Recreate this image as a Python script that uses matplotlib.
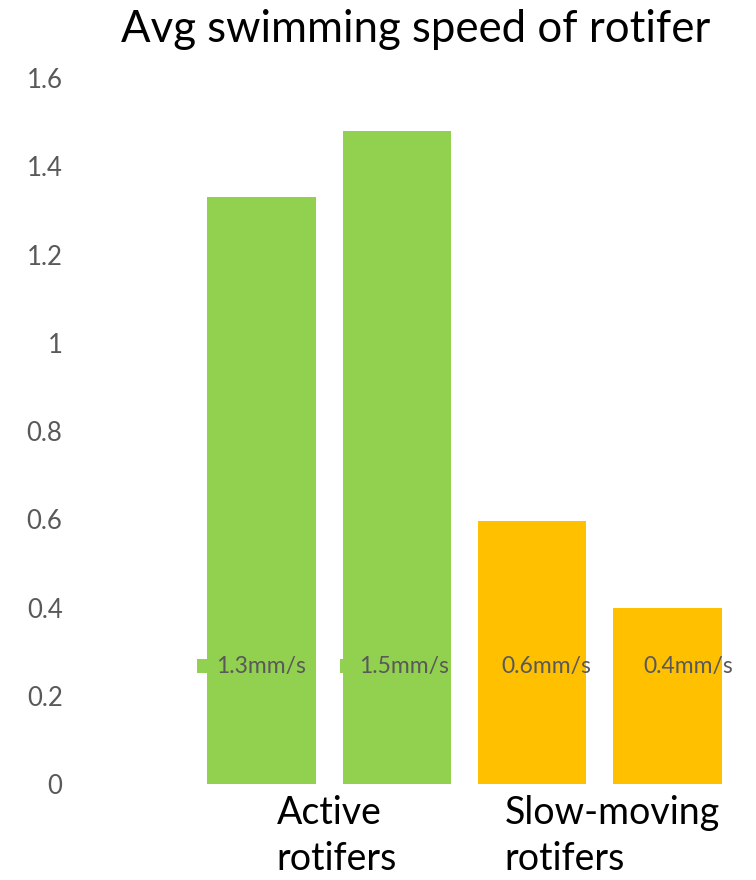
import matplotlib
matplotlib.use("Agg")
import matplotlib.pyplot as plt
from matplotlib.patches import Rectangle
from matplotlib.transforms import blended_transform_factory

plt.rcParams['font.family'] = ['Lato', 'DejaVu Sans']

# bar heights (mm/s), one bar per sample, two samples per group
speeds = [1.33, 1.48, 0.595, 0.40]
bar_colors = ['#92D050', '#92D050', '#FFC000', '#FFC000']
groups = ['Active\nrotifers', 'Slow-moving\nrotifers']
yticks = [0, 0.2, 0.4, 0.6, 0.8, 1, 1.2, 1.4, 1.6]
ytick_labels = ['0', '0.2', '0.4', '0.6', '0.8', '1', '1.2', '1.4', '1.6']

fig = plt.figure(figsize=(7.56, 8.80), dpi=100)
ax = fig.add_axes([75 / 756, 96 / 880, 670 / 756, 706 / 880])

xs = list(range(len(speeds)))
ax.bar(xs, speeds, width=0.8, color=bar_colors, zorder=2)

# data labels sit at a fixed height with a small legend key to their left
label_y = 0.267
key_w = 14 / 135.33
key_h = 14 / 441.25
for i, v in enumerate(speeds):
  cx = i + 0.052 * i
  ax.text(cx, label_y, f"{v:.1f}mm/s", ha='center', va='center',
          fontsize=16.5, color='#595959', zorder=4)
  left = cx - 0.325 - 20 / 135.33
  ax.add_patch(Rectangle((left, label_y - key_h / 2), key_w, key_h,
                         facecolor=bar_colors[i], edgecolor='none', zorder=1))

ax.set_xlim(-1.378, 3.573)
ax.set_ylim(0, 1.6)
ax.set_yticks(yticks)
ax.set_yticklabels(ytick_labels)
ax.tick_params(axis='y', length=0, pad=9, labelsize=18.5, labelcolor='#595959')
ax.set_xticks([])
for s in ax.spines.values():
  s.set_visible(False)

trans = blended_transform_factory(ax.transData, ax.transAxes)
for gx, name in zip([0.555, 2.59], groups):
  ax.text(gx, -0.016, name, transform=trans, ha='center', va='top',
          multialignment='left', fontsize=27, color='black', linespacing=1.33)

fig.text(416 / 756, 1 - 30 / 880, 'Avg swimming speed of rotifer',
         ha='center', va='center', fontsize=31.5, color='black')

fig.savefig('out.png', dpi=100)
